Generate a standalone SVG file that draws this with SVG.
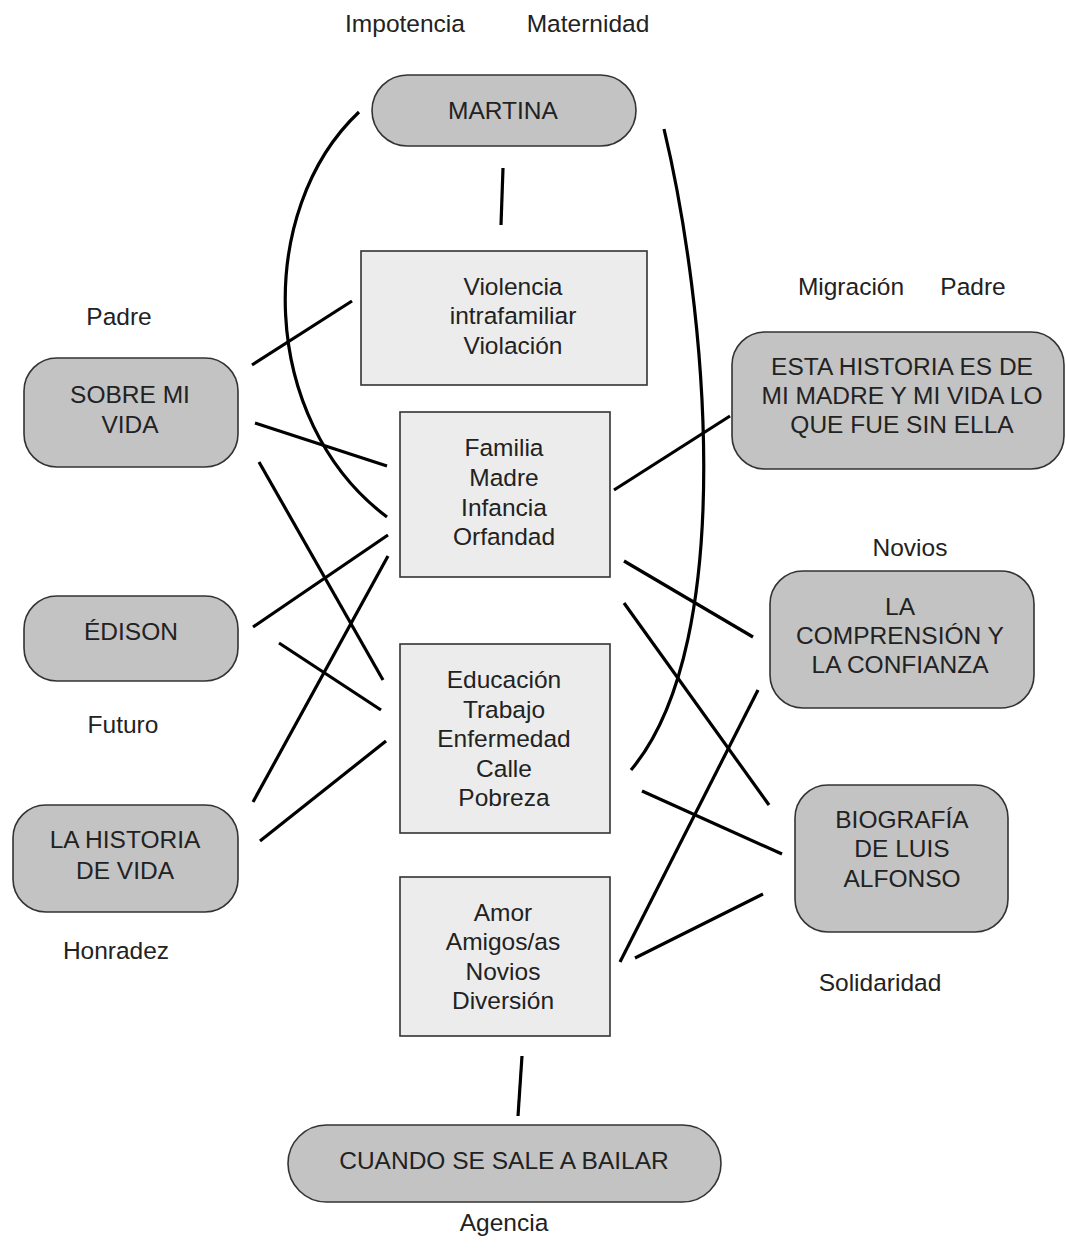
<svg xmlns="http://www.w3.org/2000/svg" width="1066" height="1259" viewBox="0 0 1066 1259">
<style>
text{font-family:"Liberation Sans",Arial,sans-serif;font-size:24.5px;fill:#222;text-anchor:middle}
.pill{fill:#c3c3c3;stroke:#333;stroke-width:1.6}
.box{fill:#ececec;stroke:#333;stroke-width:1.6}
.c line,.c path{stroke:#000;stroke-width:3.2;fill:none;stroke-linecap:butt}
</style>
<rect width="1066" height="1259" fill="#fff"/>
<g class="c" id="connectors">
<line x1="503" y1="168" x2="501" y2="225"/>
<line x1="522" y1="1056" x2="518" y2="1116"/>
<path d="M359,112 C255,210 258,420 387,517"/>
<path d="M664,129 C705,300 740,640 631,770"/>
<line x1="252" y1="365" x2="352" y2="301"/>
<line x1="255" y1="423" x2="387" y2="466"/>
<line x1="259" y1="462" x2="383" y2="680"/>
<line x1="253" y1="627" x2="388" y2="535"/>
<line x1="253" y1="802" x2="388" y2="556"/>
<line x1="279" y1="643" x2="381" y2="710"/>
<line x1="260" y1="841" x2="386" y2="741"/>
<line x1="614" y1="490" x2="730" y2="416"/>
<line x1="624" y1="561" x2="753" y2="637"/>
<line x1="624" y1="603" x2="769" y2="805"/>
<line x1="642" y1="791" x2="782" y2="854"/>
<line x1="620" y1="962" x2="758" y2="690"/>
<line x1="635" y1="958" x2="763" y2="894"/>
</g>
<g id="martina"><rect class="pill" x="372" y="75" width="264" height="71" rx="35.5"/><text x="503" y="119">MARTINA</text></g>
<g id="violencia"><rect class="box" x="361" y="251" width="286" height="134"/><text x="513" y="295">Violencia</text><text x="513" y="324">intrafamiliar</text><text x="513" y="354">Violación</text></g>
<g id="familia"><rect class="box" x="400" y="412" width="210" height="165"/><text x="504" y="456">Familia</text><text x="504" y="486">Madre</text><text x="504" y="516">Infancia</text><text x="504" y="545">Orfandad</text></g>
<g id="educacion"><rect class="box" x="400" y="644" width="210" height="189"/><text x="504" y="688">Educación</text><text x="504" y="718">Trabajo</text><text x="504" y="747">Enfermedad</text><text x="504" y="777">Calle</text><text x="504" y="806">Pobreza</text></g>
<g id="amor"><rect class="box" x="400" y="877" width="210" height="159"/><text x="503" y="921">Amor</text><text x="503" y="950">Amigos/as</text><text x="503" y="980">Novios</text><text x="503" y="1009">Diversión</text></g>
<g id="cuando"><rect class="pill" x="288" y="1125" width="433" height="77" rx="38.5"/><text x="504" y="1169">CUANDO SE SALE A BAILAR</text></g>
<g id="sobre"><rect class="pill" x="24" y="358" width="214" height="109" rx="33"/><text x="130" y="403">SOBRE MI</text><text x="130" y="433">VIDA</text></g>
<g id="edison"><rect class="pill" x="24" y="596" width="214" height="85" rx="33"/><text x="131" y="640">ÉDISON</text></g>
<g id="historia-vida"><rect class="pill" x="13" y="805" width="225" height="107" rx="33"/><text x="125" y="848">LA HISTORIA</text><text x="125" y="879">DE VIDA</text></g>
<g id="esta-historia"><rect class="pill" x="732" y="332" width="332" height="137" rx="33"/><text x="902" y="375">ESTA HISTORIA ES DE</text><text x="902" y="404">MI MADRE Y MI VIDA LO</text><text x="902" y="433">QUE FUE SIN ELLA</text></g>
<g id="comprension"><rect class="pill" x="770" y="571" width="264" height="137" rx="33"/><text x="900" y="615">LA</text><text x="900" y="644">COMPRENSIÓN Y</text><text x="900" y="673">LA CONFIANZA</text></g>
<g id="biografia"><rect class="pill" x="795" y="785" width="213" height="147" rx="33"/><text x="902" y="828">BIOGRAFÍA</text><text x="902" y="857">DE LUIS</text><text x="902" y="887">ALFONSO</text></g>
<g id="labels">
<text x="405" y="32">Impotencia</text>
<text x="588" y="32">Maternidad</text>
<text x="119" y="325">Padre</text>
<text x="851" y="295">Migración</text>
<text x="973" y="295">Padre</text>
<text x="910" y="556">Novios</text>
<text x="123" y="733">Futuro</text>
<text x="116" y="959">Honradez</text>
<text x="880" y="991">Solidaridad</text>
<text x="504" y="1231">Agencia</text>
</g>
</svg>
